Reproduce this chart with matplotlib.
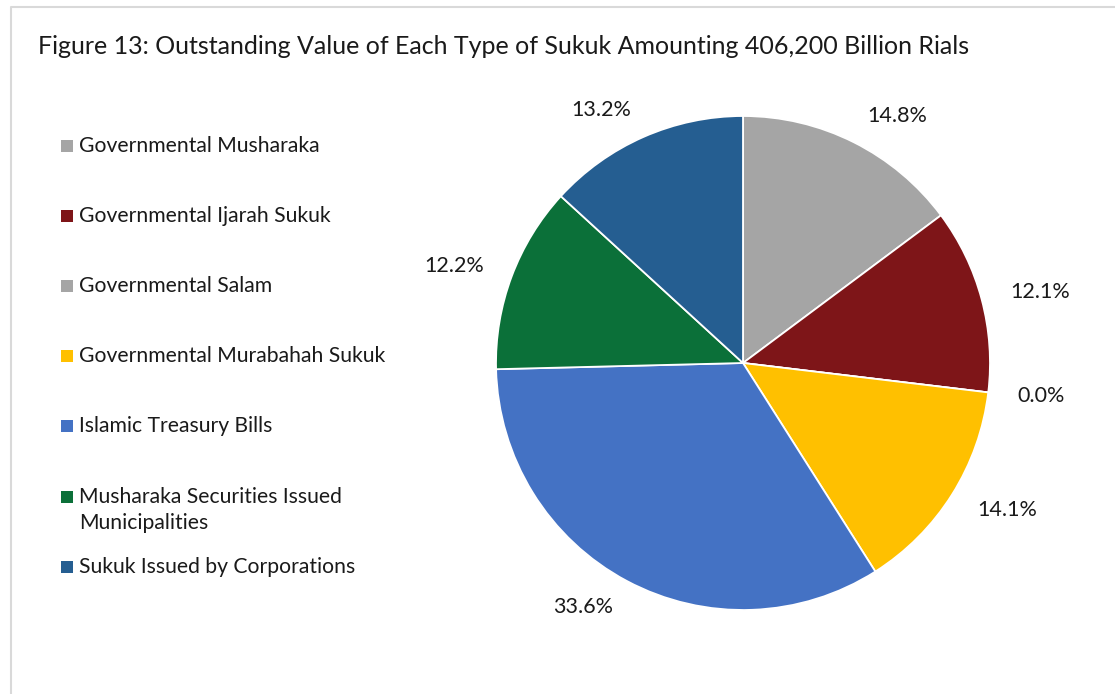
import matplotlib
matplotlib.use("Agg")
import matplotlib.pyplot as plt
from matplotlib.patches import Rectangle
from matplotlib.lines import Line2D

title = "Figure 13: Outstanding Value of Each Type of Sukuk Amounting 406,200 Billion Rials"
categories = ["Governmental Musharaka", "Governmental Ijarah Sukuk", "Governmental Salam",
              "Governmental Murabahah Sukuk", "Islamic Treasury Bills",
              "Musharaka Securities Issued\nMunicipalities", "Sukuk Issued by Corporations"]
shares = [14.8, 12.1, 0.0, 14.1, 33.6, 12.2, 13.2]
colors = ["#A5A5A5", "#7E1518", "#A5A5A5", "#FFC000", "#4472C4", "#0B7039", "#255E91"]

FONT = ["Lato", "DejaVu Sans"]
plt.rcParams["font.family"] = FONT

W, H = 1115, 694
fig = plt.figure(figsize=(W / 100, H / 100), dpi=100)
fig.patch.set_facecolor("white")

# frame lines (top and left visible)
fig.add_artist(Line2D([11 / W, 11 / W, 1.0], [0.0, 1 - 7 / H, 1 - 7 / H],
                      transform=fig.transFigure, color="#D9D9D9", lw=1.5))

fig.text(38 / W, 1 - 47 / H, title, fontsize=18, va="center", ha="left", color="#1a1a1a")

# pie
cx, cy, R = 743, 363, 247
ax = fig.add_axes([(cx - R) / W, (H - cy - R) / H, 2 * R / W, 2 * R / H])
pct_labels = [f"{v:.1f}%" for v in shares]
wedges, texts = ax.pie(shares, colors=colors, startangle=90, counterclock=False,
                       labels=pct_labels, labeldistance=1.12, radius=1.0,
                       textprops=dict(fontsize=15.5, color="#1a1a1a"),
                       wedgeprops=dict(edgecolor="white", linewidth=1.3))
ax.set_xlim(-1, 1)
ax.set_ylim(-1, 1)
ax.set_aspect("equal")
ax.axis("off")

# legend (manual)
legend_y = [146, 216, 286, 356, 426, 497, 567]
line_gap = 26
for lab, col, y in zip(categories, colors, legend_y):
    fig.add_artist(Rectangle((61 / W, 1 - (y + 6) / H), 12 / W, 12 / H,
                             transform=fig.transFigure, facecolor=col, edgecolor="none"))
    for i, line in enumerate(lab.split("\n")):
        fig.text(79 / W, 1 - (y + i * line_gap) / H, line, fontsize=15.2, va="center",
                 ha="left", color="#1a1a1a")

fig.savefig("out.png", dpi=100, facecolor="white")
